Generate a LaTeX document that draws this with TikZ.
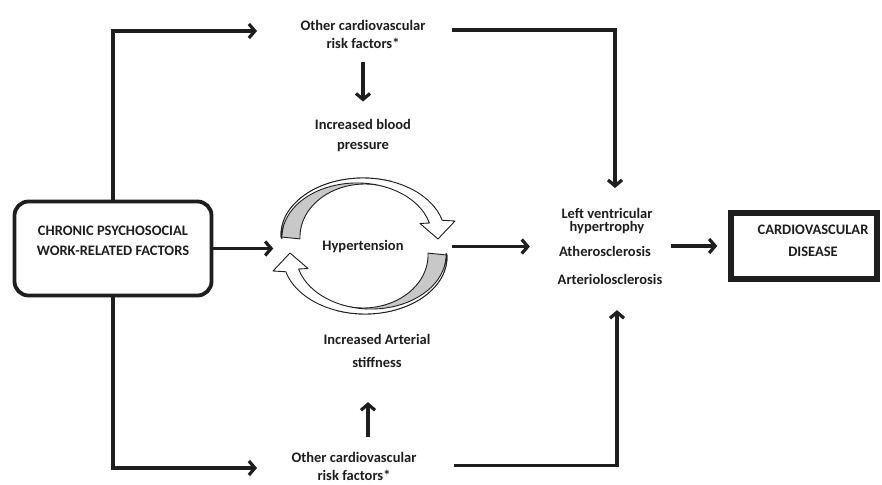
\documentclass[tikz,border=0pt]{standalone}
\usepackage{fontspec}
\setmainfont{Carlito}
\usetikzlibrary{arrows.meta}
\definecolor{ink}{HTML}{1E1E1E}
\definecolor{band}{HTML}{C8C8C8}
\begin{document}
\begin{tikzpicture}[x=1pt,y=-1pt,
  txt/.style={align=center,inner sep=0pt,text=ink,font=\fontsize{14.5}{19}\selectfont\bfseries},
  conn/.style={draw=ink,line width=3.2pt,-{Straight Barb[length=6pt,width=14pt]}},
  cyc/.style={draw=ink,line width=0.9pt,line join=round}]
\fill[white] (0,0) rectangle (882,484);
\path[use as bounding box] (0,0) rectangle (882,484);

% boxes
\node[draw=ink,line width=3.8pt,rounded corners=14pt,minimum width=197pt,minimum height=94pt,inner sep=0pt] (chronic) at (113,248.5) {};
\node[txt,font=\fontsize{14.5}{20}\selectfont\bfseries] (chronictxt) at (113,241) {CHRONIC PSYCHOSOCIAL\\WORK-RELATED FACTORS};
\node[draw=ink,line width=5.5pt,minimum width=146pt,minimum height=66pt,inner sep=0pt] (cvd) at (804,246) {};
\node[txt,font=\fontsize{14.5}{22}\selectfont\bfseries] (cvdtxt) at (813,241) {CARDIOVASCULAR\\DISEASE};

% texts
\node[txt,font=\fontsize{14.5}{18}\selectfont\bfseries] (othertop) at (363,34) {Other cardiovascular\\risk factors*};
\node[txt,font=\fontsize{14.5}{20}\selectfont\bfseries] (bloodp) at (363,136) {Increased blood\\pressure};
\node[txt] (hyp) at (363,246.5) {Hypertension};
\node[txt,font=\fontsize{14.5}{13}\selectfont\bfseries] (lvh) at (607,221) {Left ventricular\\hypertrophy};
\node[txt] (athero) at (605,251.75) {Atherosclerosis};
\node[txt] (arterio) at (610,279.75) {Arteriolosclerosis};
\node[txt,font=\fontsize{14.5}{23}\selectfont\bfseries] (stiff) at (377,351.25) {Increased Arterial\\stiffness};
\node[txt,font=\fontsize{14.5}{18}\selectfont\bfseries] (otherbot) at (354,466.75) {Other cardiovascular\\risk factors*};

% cycle arrows (top one, and its copy turned round)
\foreach \r in {0,180}{
\begin{scope}[rotate around={\r:(364,246)}]
  \filldraw[cyc,fill=band] (281.05,237) arc[start angle=178,end angle=290,x radius=82,y radius=57]
     -- (387.2,187.2) arc[start angle=290,end angle=178,x radius=65,y radius=53] -- cycle;
  \filldraw[cyc,fill=white] (281.05,237) arc[start angle=178,end angle=345,x radius=82,y radius=57]
     -- (455,221) -- (438,239) -- (420,223.5) -- (429.4,223)
     arc[start angle=345,end angle=178,x radius=75,y radius=54] -- cycle;
\end{scope}}

% connectors
\draw[conn] (chronic.north) |- (257,31) coordinate (tl);
\draw[conn] (chronic.south) |- (257,468) coordinate (bl);
\draw[conn,shorten >=49pt] (chronic.east) -- (chronic.east -| hyp.west);

\draw[conn,shorten <=14pt,shorten >=18pt] (othertop.south) -- (othertop.south |- bloodp.north);
\coordinate (upbot) at ([xshift=14pt,yshift=15pt]otherbot.north);
\coordinate (uptop) at (upbot |- stiff.south);
\draw[conn,shorten >=34pt] (upbot) -- (uptop);

\coordinate (lvtop) at ([xshift=8pt,yshift=20pt]lvh.north);
\draw[conn] ([shift={(26pt,4pt)}]othertop.east) -| (lvtop);
\coordinate (arbot) at ([xshift=7pt,yshift=-25pt]arterio.south);
\draw[conn] ([shift={(37pt,1pt)}]otherbot.east) -| (arbot);

\draw[conn,shorten <=48pt,shorten >=29pt] (hyp.east) -- (hyp.east -| athero.west);
\draw[conn,shorten <=20pt,shorten >=11pt] (athero.east |- cvd.west) -- (cvd.west);
\end{tikzpicture}
\end{document}
